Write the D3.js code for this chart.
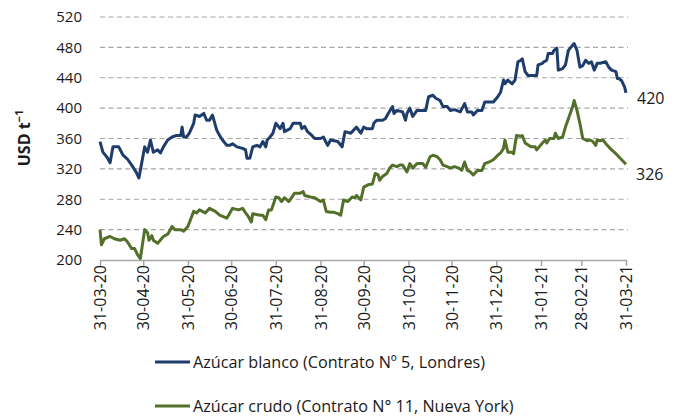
<!DOCTYPE html>
<html>
<head>
<meta charset="utf-8">
<script src="https://cdn.jsdelivr.net/npm/d3@7"></script>
<style>
  body { margin: 0; background: #fff; }
  svg text { font-family: "Open Sans", sans-serif; fill: #1a1a1a; }
</style>
</head>
<body>
<div id="chart"></div>
<script>
// dias desde el 31-03-20
var inicio = new Date(2020, 2, 31);

var diasBlanco = [0,2,5,7,9,13,16,19,22,25,
  27,31,33,35,37,40,42,44,47,50,
  53,56,57,58,60,62,65,66,69,72,
  74,76,78,81,83,85,88,90,92,95,
  99,101,102,104,106,109,111,113,115,116,
  118,120,122,125,127,128,130,132,134,139,
  140,142,144,147,149,153,155,156,158,160,
  165,168,170,174,176,178,181,183,185,189,
  190,192,196,198,200,203,204,206,210,212,
  213,215,217,220,222,226,228,231,233,236,
  238,241,243,246,250,253,255,258,259,262,
  265,267,271,273,276,278,280,281,283,286,
  288,290,292,293,295,297,303,304,307,308,
  310,311,314,315,317,318,321,323,325,328,
  329,331,333,335,337,339,341,343,345,347,
  351,353,355,358,359,360,362,364,365];
var blanco = [356,342,335,328,349,349,338,333,325,316,
  308,349,342,358,342,345,341,349,358,362,
  364,364,375,362,362,367,380,391,389,393,
  384,384,391,371,364,358,351,351,353,349,
  347,345,334,334,349,351,349,356,349,358,
  362,367,380,373,380,369,371,373,380,380,
  373,376,369,364,360,360,362,358,351,358,
  356,349,369,367,371,375,367,375,373,373,
  380,384,384,386,393,402,393,397,395,384,
  393,400,389,397,397,397,415,417,413,410,
  402,402,397,398,395,406,395,395,391,397,
  397,408,408,408,415,421,437,432,437,432,
  437,461,463,465,448,443,443,457,459,461,
  463,472,472,476,479,450,452,457,476,483,
  485,476,454,456,463,459,461,450,459,459,
  461,454,450,448,439,439,436,428,420];

var diasCrudo = [0,1,3,7,10,14,17,19,22,24,
  26,28,31,33,34,36,37,40,44,47,
  50,52,56,58,61,65,67,69,73,76,
  80,83,88,92,96,99,101,103,105,106,
  111,113,115,117,119,122,124,126,128,131,
  133,135,139,141,142,146,149,153,155,157,
  160,162,165,167,169,172,175,177,178,181,
  183,186,189,191,193,194,196,199,201,203,
  206,208,210,213,215,217,220,224,226,229,
  231,234,236,238,241,243,246,249,251,253,
  255,257,259,262,265,267,271,273,276,278,
  280,281,283,286,287,289,292,293,295,299,
  302,303,307,309,310,312,315,316,318,321,
  323,325,328,329,331,333,335,338,340,342,
  344,345,347,349,352,355,358,360,362,365];
var crudo = [240,220,228,231,228,226,228,224,215,215,
  207,202,240,236,226,232,226,222,231,234,
  244,240,240,238,244,264,262,266,262,268,
  264,259,255,268,266,268,262,257,250,261,
  259,259,253,266,266,283,282,277,282,277,
  282,288,288,290,285,283,282,277,279,264,
  263,263,261,259,279,277,283,282,285,279,
  296,299,300,314,312,305,310,314,321,325,
  323,325,325,316,327,321,327,327,322,336,
  338,336,332,325,323,321,323,321,318,329,
  318,316,312,318,318,327,330,332,338,341,
  347,358,342,342,340,364,363,364,354,349,
  349,345,354,358,354,360,360,367,360,362,
  375,386,402,410,397,380,360,357,358,356,
  351,358,357,358,351,345,340,336,332,326];

var yTicks = [200,240,280,320,360,400,440,480,520];
var xTickLabels = ["31-03-20","30-04-20","31-05-20","30-06-20","31-07-20","31-08-20",
  "30-09-20","31-10-20","30-11-20","31-12-20","31-01-21","28-02-21","31-03-21"];
var series = ["Azúcar blanco (Contrato Nº 5, Londres)", "Azúcar crudo (Contrato N° 11, Nueva York)"];
var colors = ["#1f3d6b", "#53702b"];

var width = 684, height = 418;
var margin = {left: 100, right: 58, top: 17, bottom: 158};

var svg = d3.select("#chart").append("svg")
  .attr("width", width)
  .attr("height", height);

var parse = d3.timeParse("%d-%m-%y");
var xscale = d3.scaleTime()
  .domain([inicio, parse("31-03-21")])
  .range([margin.left, width - margin.right]);
var yscale = d3.scaleLinear()
  .domain([200, 520])
  .range([height - margin.bottom, margin.top]);

// grid
svg.append("g").selectAll("line")
  .data(yTicks.filter(function(d){ return d > 200; }))
  .enter().append("line")
  .attr("x1", xscale.range()[0])
  .attr("x2", xscale.range()[1] + 2)
  .attr("y1", function(d){ return yscale(d); })
  .attr("y2", function(d){ return yscale(d); })
  .attr("stroke", "#a6a6a6")
  .attr("stroke-width", 1.2)
  .attr("stroke-dasharray", "5,3.5");

// y axis labels
svg.append("g").selectAll("text")
  .data(yTicks)
  .enter().append("text")
  .attr("x", 82)
  .attr("y", function(d){ return yscale(d); })
  .attr("dy", "0.35em")
  .attr("text-anchor", "end")
  .style("font-size", "15px")
  .text(function(d){ return d; });

// x axis
var xaxis = d3.axisBottom(xscale)
  .tickValues(xTickLabels.map(parse))
  .tickFormat(d3.timeFormat("%d-%m-%y"))
  .tickSize(6)
  .tickSizeOuter(0);
var gx = svg.append("g")
  .attr("transform", "translate(0," + yscale(200) + ")")
  .call(xaxis);
gx.select(".domain").attr("stroke", "#a6a6a6").attr("stroke-width", 1.5);
gx.selectAll(".tick line").attr("stroke", "#a6a6a6").attr("stroke-width", 1.5);
gx.selectAll(".tick text")
  .attr("transform", "rotate(-90)")
  .attr("text-anchor", "end")
  .attr("x", -5)
  .attr("y", 0)
  .attr("dy", "0.35em")
  .style("font-size", "16px")
  .style("font-family", "'Open Sans', sans-serif")
  .attr("fill", "#1a1a1a");

// lines
var line = d3.line()
  .x(function(d){ return xscale(d3.timeDay.offset(inicio, d[0])); })
  .y(function(d){ return yscale(d[1]); });

var datos = [d3.zip(diasBlanco, blanco), d3.zip(diasCrudo, crudo)];
svg.append("g").selectAll("path")
  .data(datos)
  .enter().append("path")
  .attr("d", line)
  .attr("fill", "none")
  .attr("stroke", function(d, i){ return colors[i]; })
  .attr("stroke-width", 3)
  .attr("stroke-linejoin", "round");

// end labels
svg.append("text")
  .attr("x", 637).attr("y", yscale(blanco[blanco.length - 1]) + 5)
  .attr("dy", "0.35em")
  .style("font-size", "16px")
  .text(blanco[blanco.length - 1]);
svg.append("text")
  .attr("x", 636).attr("y", yscale(crudo[crudo.length - 1]) + 10)
  .attr("dy", "0.35em")
  .style("font-size", "16px")
  .text(crudo[crudo.length - 1]);

// y label
var ylab = svg.append("text")
  .attr("transform", "translate(30,138) rotate(-90)")
  .attr("text-anchor", "middle")
  .style("font-size", "16px")
  .style("font-weight", "bold");
ylab.append("tspan").text("USD t");
ylab.append("tspan").attr("dy", "-7").style("font-size", "11px").text("−1");

// legend
var legend = svg.append("g").selectAll("g")
  .data(series)
  .enter().append("g")
  .attr("transform", function(d, i){ return "translate(155," + (362 + i * 44) + ")"; });
legend.append("line")
  .attr("x1", 0).attr("x2", 35)
  .attr("stroke", function(d, i){ return colors[i]; })
  .attr("stroke-width", 3);
legend.append("text")
  .attr("x", 38)
  .attr("dy", "0.35em")
  .style("font-size", "16.2px")
  .text(function(d){ return d; });
</script>
</body>
</html>
